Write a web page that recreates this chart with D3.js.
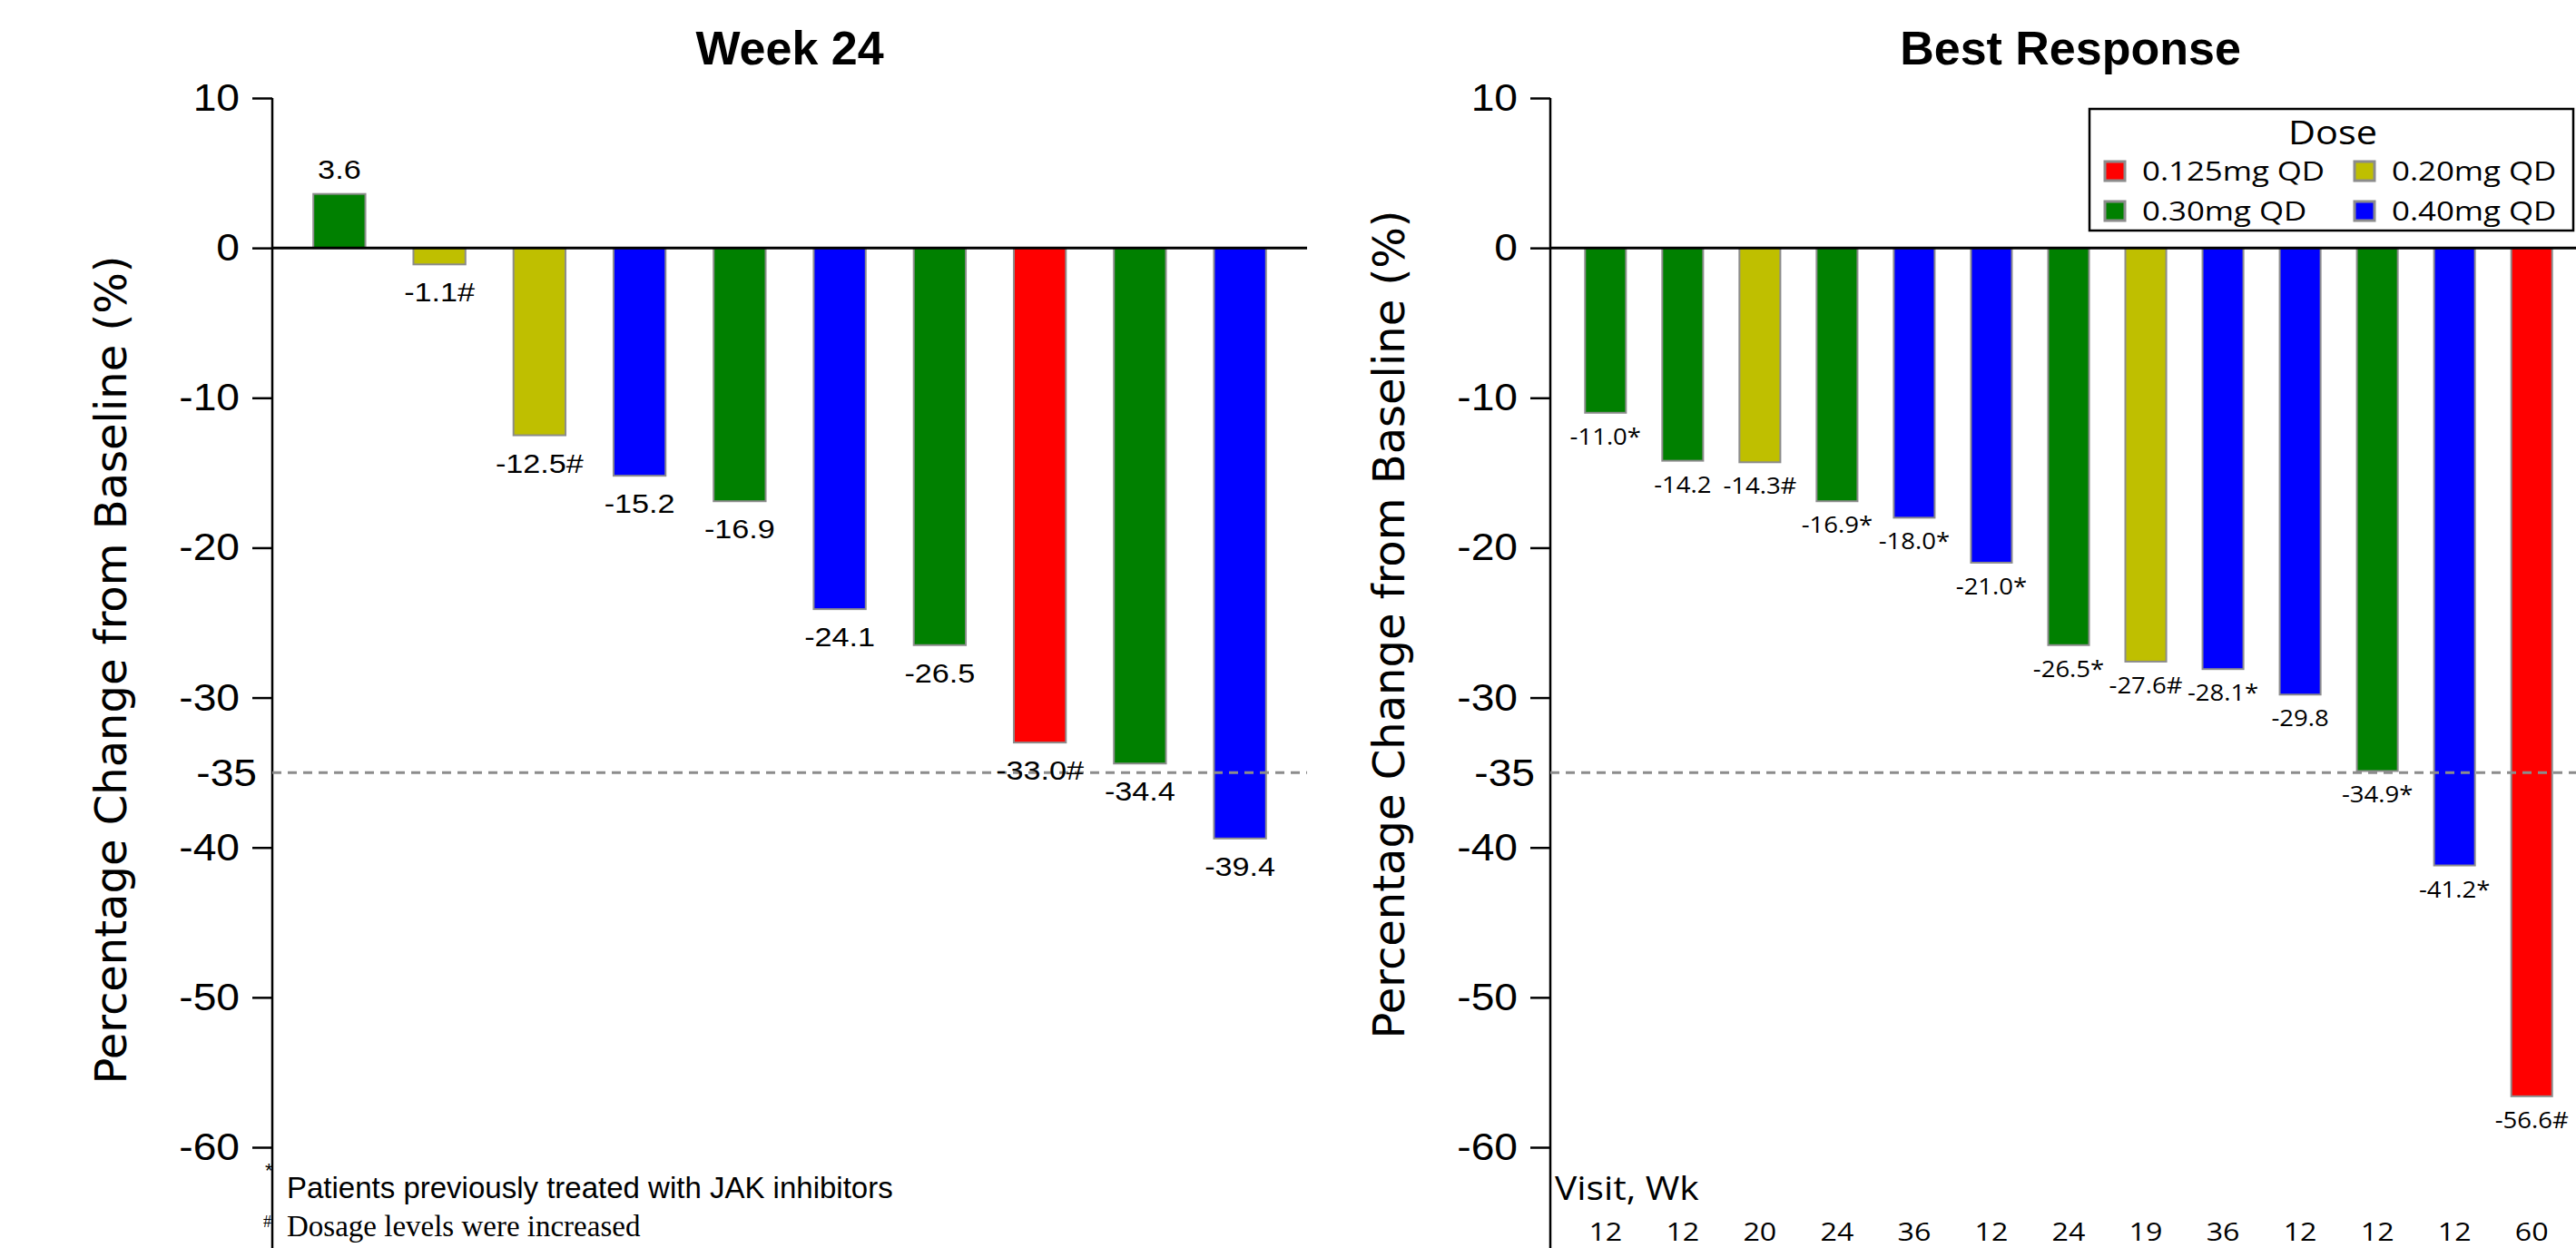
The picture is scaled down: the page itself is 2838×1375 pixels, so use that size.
<!DOCTYPE html>
<html>
<head>
<meta charset="utf-8">
<script src="https://cdn.jsdelivr.net/npm/d3@7"></script>
<style>
  html, body { margin: 0; padding: 0; background: #fff; }
  svg { display: block; }
</style>
</head>
<body>
<script>
// Dose groups and their fill colours
const doseNames = ["0.125mg QD", "0.20mg QD", "0.30mg QD", "0.40mg QD"];
const doseColors = ["#ff0000", "#bfbf00", "#008000", "#0000ff"];

// Week 24 panel
const wk24Values = [3.6, -1.1, -12.5, -15.2, -16.9, -24.1, -26.5, -33.0, -34.4, -39.4];
const wk24Dose = ["0.30mg QD", "0.20mg QD", "0.20mg QD", "0.40mg QD", "0.30mg QD",
                  "0.40mg QD", "0.30mg QD", "0.125mg QD", "0.30mg QD", "0.40mg QD"];
const wk24Marks = ["", "#", "#", "", "", "", "", "#", "", ""];

// Best response panel
const bestValues = [-11.0, -14.2, -14.3, -16.9, -18.0, -21.0, -26.5, -27.6, -28.1, -29.8, -34.9, -41.2, -56.6];
const bestDose = ["0.30mg QD", "0.30mg QD", "0.20mg QD", "0.30mg QD", "0.40mg QD", "0.40mg QD",
                  "0.30mg QD", "0.20mg QD", "0.40mg QD", "0.40mg QD", "0.30mg QD", "0.40mg QD", "0.125mg QD"];
const bestMarks = ["*", "", "#", "*", "*", "*", "*", "#", "*", "", "*", "*", "#"];
const bestVisits = [12, 12, 20, 24, 36, 12, 24, 19, 36, 12, 12, 12, 60];

// Axis ticks and reference level
const yTicks = [10, 0, -10, -20, -30, -40, -50, -60];
const threshold = -35;

const W = 2838, H = 1375;
const color = d3.scaleOrdinal().domain(doseNames).range(doseColors);

const svg = d3.select("body").append("svg")
  .attr("width", W).attr("height", H)
  .attr("viewBox", `0 0 ${W} ${H}`);
svg.append("rect").attr("width", W).attr("height", H).attr("fill", "#fff");

const y = d3.scaleLinear().domain([10, -60]).range([108, 1264]);

const ARIAL = "'Liberation Sans', Arial, Helvetica, sans-serif";
const OPEN = "'Open Sans', 'Noto Sans', sans-serif";
const VERD = "'DejaVu Sans', Verdana, sans-serif";
const SERIF = "'Liberation Serif', 'Times New Roman', serif";

// text placed at (x, y) with optional horizontal stretch
function putText(g, x, yy, str, opts) {
  const sx = opts.sx || 1;
  return g.append("text")
    .attr("transform", `translate(${x},${yy}) scale(${sx},1)`)
    .attr("text-anchor", opts.anchor || "middle")
    .attr("font-family", opts.family || ARIAL)
    .attr("font-size", opts.size)
    .attr("font-weight", opts.weight || "normal")
    .attr("fill", "#000")
    .text(str);
}

function panel(cfg) {
  const g = svg.append("g");
  const x = d3.scaleBand()
    .domain(d3.range(cfg.values.length))
    .range([cfg.x0, cfg.x1])
    .paddingInner(cfg.padIn)
    .paddingOuter(cfg.padOut);

  // bars
  g.selectAll("rect.bar")
    .data(cfg.values)
    .join("rect")
    .attr("class", "bar")
    .attr("x", (d, i) => x(i))
    .attr("width", x.bandwidth())
    .attr("y", d => d >= 0 ? y(d) : y(0))
    .attr("height", d => Math.abs(y(d) - y(0)))
    .attr("fill", (d, i) => color(cfg.dose[i]))
    .attr("stroke", "#8c8c8c")
    .attr("stroke-width", 2);

  // y axis
  const tickLen = 22, tickPad = 14, tickSx = 1.1;
  const axis = d3.axisLeft(y)
    .tickValues(yTicks)
    .tickSize(tickLen)
    .tickPadding(tickPad)
    .tickFormat(d => String(d));
  const ag = g.append("g").attr("transform", `translate(${cfg.x0},0)`).call(axis);
  ag.select(".domain").remove();
  ag.selectAll(".tick line").attr("stroke", "#000").attr("stroke-width", 2.5);
  ag.selectAll(".tick text")
    .attr("font-family", ARIAL)
    .attr("font-size", 42)
    .attr("fill", "#000")
    .attr("x", -(tickLen + tickPad) / tickSx)
    .attr("transform", `scale(${tickSx},1)`);
  g.append("line")
    .attr("x1", cfg.x0).attr("x2", cfg.x0)
    .attr("y1", y(10)).attr("y2", H)
    .attr("stroke", "#000").attr("stroke-width", 2.5);

  // threshold level label and dashed line
  putText(g, cfg.x0 - 17, y(threshold) + 15, String(threshold),
          {anchor: "end", size: 42, sx: tickSx});
  g.append("line")
    .attr("x1", cfg.x0).attr("x2", cfg.lineEnd)
    .attr("y1", y(threshold)).attr("y2", y(threshold))
    .attr("stroke", "#8c8c8c").attr("stroke-width", 3)
    .attr("stroke-dasharray", "10,7");

  // zero line
  g.append("line")
    .attr("x1", cfg.x0).attr("x2", cfg.lineEnd)
    .attr("y1", y(0)).attr("y2", y(0))
    .attr("stroke", "#000").attr("stroke-width", 3);

  // value labels
  cfg.values.forEach((v, i) => {
    const cx = x(i) + x.bandwidth() / 2;
    const ly = v >= 0 ? y(v) - cfg.labelAbove : y(v) + cfg.labelBelow;
    putText(g, cx, ly, v.toFixed(1) + cfg.marks[i],
            {size: cfg.labelSize, family: cfg.labelFamily, sx: cfg.labelSx});
  });

  // title
  putText(g, cfg.titleX, 71, cfg.title, {size: 52, weight: "bold"});

  // y axis title
  g.append("text")
    .attr("transform", `translate(${cfg.x0 - 161},${cfg.yTitleY}) rotate(-90)`)
    .attr("text-anchor", "middle")
    .attr("font-family", VERD)
    .attr("font-size", 48)
    .attr("fill", "#000")
    .text("Percentage Change from Baseline (%)");

  return {g, x};
}

// Week 24
const left = panel({
  values: wk24Values, dose: wk24Dose, marks: wk24Marks,
  x0: 300, x1: 1440, padIn: 0.48, padOut: 0.41, lineEnd: 1440,
  labelAbove: 17, labelBelow: 41, labelSize: 30, labelFamily: ARIAL, labelSx: 1.14,
  title: "Week 24", titleX: 870, yTitleY: 738
});

// Best response
const right = panel({
  values: bestValues, dose: bestDose, marks: bestMarks,
  x0: 1708, x1: 2850, padIn: 0.47, padOut: 0.45, lineEnd: W,
  labelAbove: 17, labelBelow: 35, labelSize: 25, labelFamily: OPEN, labelSx: 1.1,
  title: "Best Response", titleX: 2281, yTitleY: 688
});

// footnotes under the week 24 panel
putText(left.g, 292, 1297, "*", {anchor: "start", size: 22});
putText(left.g, 316, 1320, "Patients previously treated with JAK inhibitors",
        {anchor: "start", size: 33});
putText(left.g, 290, 1352, "#", {anchor: "start", size: 18, family: SERIF});
putText(left.g, 316, 1362, "Dosage levels were increased",
        {anchor: "start", size: 33, family: SERIF});

// visit weeks under the best response bars
putText(right.g, 1713, 1322, "Visit, Wk", {anchor: "start", size: 37, family: OPEN, sx: 1.1});
bestVisits.forEach((v, i) => {
  putText(right.g, right.x(i) + right.x.bandwidth() / 2, 1367, String(v),
          {size: 28, family: OPEN, sx: 1.15});
});

// legend
const lg = svg.append("g");
lg.append("rect")
  .attr("x", 2302).attr("y", 120).attr("width", 533).attr("height", 134)
  .attr("fill", "#fff").attr("stroke", "#000").attr("stroke-width", 2.5);
putText(lg, 2570, 159, "Dose", {size: 37, family: OPEN, sx: 1.12});
const legendCols = [2319, 2594];
const legendRows = [199, 243];
const legendOrder = ["0.125mg QD", "0.20mg QD", "0.30mg QD", "0.40mg QD"];
legendOrder.forEach((name, i) => {
  const cx = legendCols[i % 2], ry = legendRows[Math.floor(i / 2)];
  lg.append("rect")
    .attr("x", cx).attr("y", ry - 21).attr("width", 22).attr("height", 21)
    .attr("fill", color(name)).attr("stroke", "#8c8c8c").attr("stroke-width", 3);
  putText(lg, cx + 41, ry, name, {anchor: "start", size: 29, family: OPEN, sx: 1.2});
});
</script>
</body>
</html>
